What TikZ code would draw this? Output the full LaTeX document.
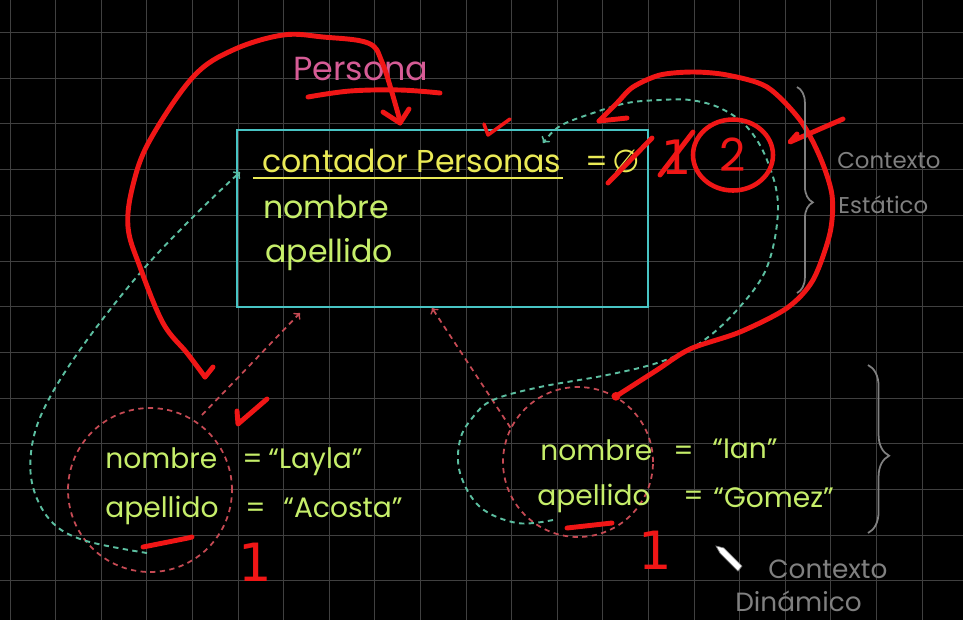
\documentclass[tikz,border=0pt]{standalone}
\usepackage{fontspec}
\setmainfont{Poppins}
\newfontfamily\symfont{DejaVu Sans}
\usetikzlibrary{positioning,shapes.geometric,decorations.pathreplacing}
\definecolor{boardColor}{RGB}{0,0,0}
\definecolor{gridColor}{RGB}{64,64,64}
\definecolor{boxColor}{RGB}{72,196,196}
\definecolor{attrColor}{RGB}{234,234,86}
\definecolor{valColor}{RGB}{198,238,106}
\definecolor{penColor}{RGB}{240,22,22}
\definecolor{refColor}{RGB}{198,74,84}
\definecolor{linkColor}{RGB}{92,190,160}
\definecolor{titleColor}{RGB}{214,92,150}
\definecolor{noteColor}{RGB}{128,128,128}

\begin{document}
\begin{tikzpicture}[x=0.02cm,y=-0.02cm]
  \tikzstyle{classbox} = [rectangle,draw=boxColor,line width=1.4pt,inner sep=0pt,minimum width=8.22cm,minimum height=3.54cm]
  \tikzstyle{instance} = [circle,draw=refColor,line width=1pt,dash pattern=on 3pt off 2.5pt,inner sep=0pt]
  \tikzstyle{attr} = [anchor=base west,inner sep=0pt,text=valColor,font=\fontsize{18}{20}\selectfont]
  \tikzstyle{val} = [attr,font=\fontsize{16}{18}\selectfont]
  \tikzstyle{count} = [inner sep=0pt,text=penColor,font=\symfont\fontsize{30}{32}\selectfont]
  \tikzstyle{pen} = [penColor,line width=2.8pt,line cap=round,line join=round]
  \tikzstyle{ref} = [refColor,line width=1pt,dash pattern=on 3pt off 2.5pt]
  \tikzstyle{link} = [linkColor,line width=1.1pt,dash pattern=on 3pt off 2.5pt]
  \tikzstyle{note} = [anchor=base west,inner sep=0pt,text=noteColor,font=\fontsize{13}{15}\selectfont]
  \tikzstyle{bracket} = [noteColor,line width=1pt,decorate]
  \tikzset{>={to}}

  % board
  \clip (0,0) rectangle (963,620);
  \fill[boardColor] (0,0) rectangle (963,620);
  \foreach \x in {0,...,21} \draw[gridColor,line width=.5pt] ({10+45.6*\x},0) -- ({10+45.6*\x},620);
  \foreach \y in {0,...,13} \draw[gridColor,line width=.5pt] (0,{32.5+45.7*\y}) -- (963,{32.5+45.7*\y});

  % class Persona
  \node[classbox] (persona) at (442.5,218.5) {};
  \node[attr,text=titleColor,font=\fontsize{19}{21}\selectfont] (title) at (293,80) {Persona};
  \node[attr,text=attrColor] (counter) at (262,172) {contador Personas};
  \draw[attrColor,line width=1.2pt] (253,178) -- (563,178);
  \node[attr,text=attrColor] (eq) at (585,172) {=};
  \node[attr,text=attrColor,font=\symfont\fontsize{18}{20}\selectfont] (zero) at (612,172) {∅};
  \node[attr] (nom) at (263,218) {nombre};
  \node[attr] (ape) at (265,262) {apellido};

  % objects
  \node[instance,minimum size=3.28cm] (layla) at (150,490) {};
  \node[instance,minimum size=3.0cm] (ian) at (578,462) {};
  \node[val] (lnom) at (105,468) {nombre};
  \node[val] (leq1) at (242,468) {=};
  \node[val] (lval1) at (268,468) {“Layla”};
  \node[val] (lape) at (105,517) {apellido};
  \node[val] (leq2) at (245,517) {=};
  \node[val] (lval2) at (283,517) {“Acosta”};
  \node[val] (inom) at (540,460) {nombre};
  \node[val] (ieq1) at (673,460) {=};
  \node[val] (ival1) at (712,458) {“Ian”};
  \node[val] (iape) at (537,505) {apellido};
  \node[val] (ieq2) at (683,505) {=};
  \node[val] (ival2) at (713,507) {“Gomez”};

  % references to the class
  \coordinate (lref) at (300,313);
  \coordinate (iref) at (432,308);
  \draw[ref,->] (202,415) -- (lref);
  \draw[ref,->] (ian.153) -- (iref);
  \draw[link,->] plot[smooth,tension=.6] coordinates {(147,553) (83,540) (50,520) (32,483) (33,440) (50,397) (87,340) (140,273) (193,217) (240,172)};
  \draw[link,->] plot[smooth,tension=.6] coordinates {(553,520) (517,523) (480,507) (460,473) (460,440) (473,417) (493,400) (540,387) (607,375) (660,362) (700,343) (737,310) (767,267) (778,207) (767,160) (747,127) (720,108) (690,100) (660,100) (627,103) (593,113) (560,126) (543,143)};

  % pen marks
  \draw[pen] (213,367) -- (205,377);
  \draw[pen] plot[smooth,tension=.6] coordinates {(205,377) (187,353) (163,323) (140,267) (128,227) (133,185) (150,140) (193,77) (233,50) (283,35) (323,37) (368,43) (382,62) (397,110) (400,123)};
  \draw[pen] (383,112) -- (400,123) -- (409,109);
  \draw[pen] plot[smooth,tension=.6] coordinates {(308,97) (350,91) (400,90) (440,93)};
  \draw[pen,line width=2pt] (484,124) -- (488,135) -- (510,119);
  \draw[pen] (608,183) -- (652,138);
  \node[count,font=\symfont\fontsize{27}{29}\selectfont] (one) at (677,157) {1};
  \draw[pen] (660,175) -- (693,132);
  \node[ellipse,draw=penColor,line width=2.6pt,minimum width=1.6cm,minimum height=1.42cm,inner sep=0pt,text=penColor,font=\fontsize{26}{28}\selectfont] (two) at (733,155) {2};
  \fill[penColor] (ian.60) circle (2.5pt);
  \draw[pen] plot[smooth,tension=.5] coordinates {(ian.60) (657,370) (690,349) (740,332) (787,308) (813,280) (830,233) (832,195) (820,157) (800,120) (767,87) (727,75) (693,72) (660,75) (633,87) (617,103) (599,121)};
  \draw[pen] (599,121) -- (627,118);
  \draw[pen] (797,134) -- (790,142) -- (843,119);
  \draw[pen] (237,411) -- (238,424) -- (267,399);
  \draw[pen] (143,547) -- (188,538) -- (192,537);
  \draw[pen] (567,528) -- (612,523);
  \node[count] (lcount) at (255,562) {1};
  \node[count] (icount) at (655,550) {1};

  % contexts
  \draw[bracket,decoration={brace,amplitude=9pt,aspect=.56}] (797,87) -- (797,293);
  \node[note] (est1) at (837,168) {Contexto};
  \node[note] (est2) at (838,213) {Estático};
  \draw[bracket,decoration={brace,amplitude=12pt,aspect=.54}] (868,365) -- (868,533);
  \node[note,font=\fontsize{15}{17}\selectfont] (din1) at (768,578) {Contexto};
  \node[note,font=\fontsize{15}{17}\selectfont] (din2) at (735,611) {Dinámico};

  % cursor
  \filldraw[fill=white,draw=noteColor,line width=.4pt] (716,546) -- (724,548) -- (742,566) -- (738,571) -- (720,553) -- cycle;
\end{tikzpicture}
\end{document}
